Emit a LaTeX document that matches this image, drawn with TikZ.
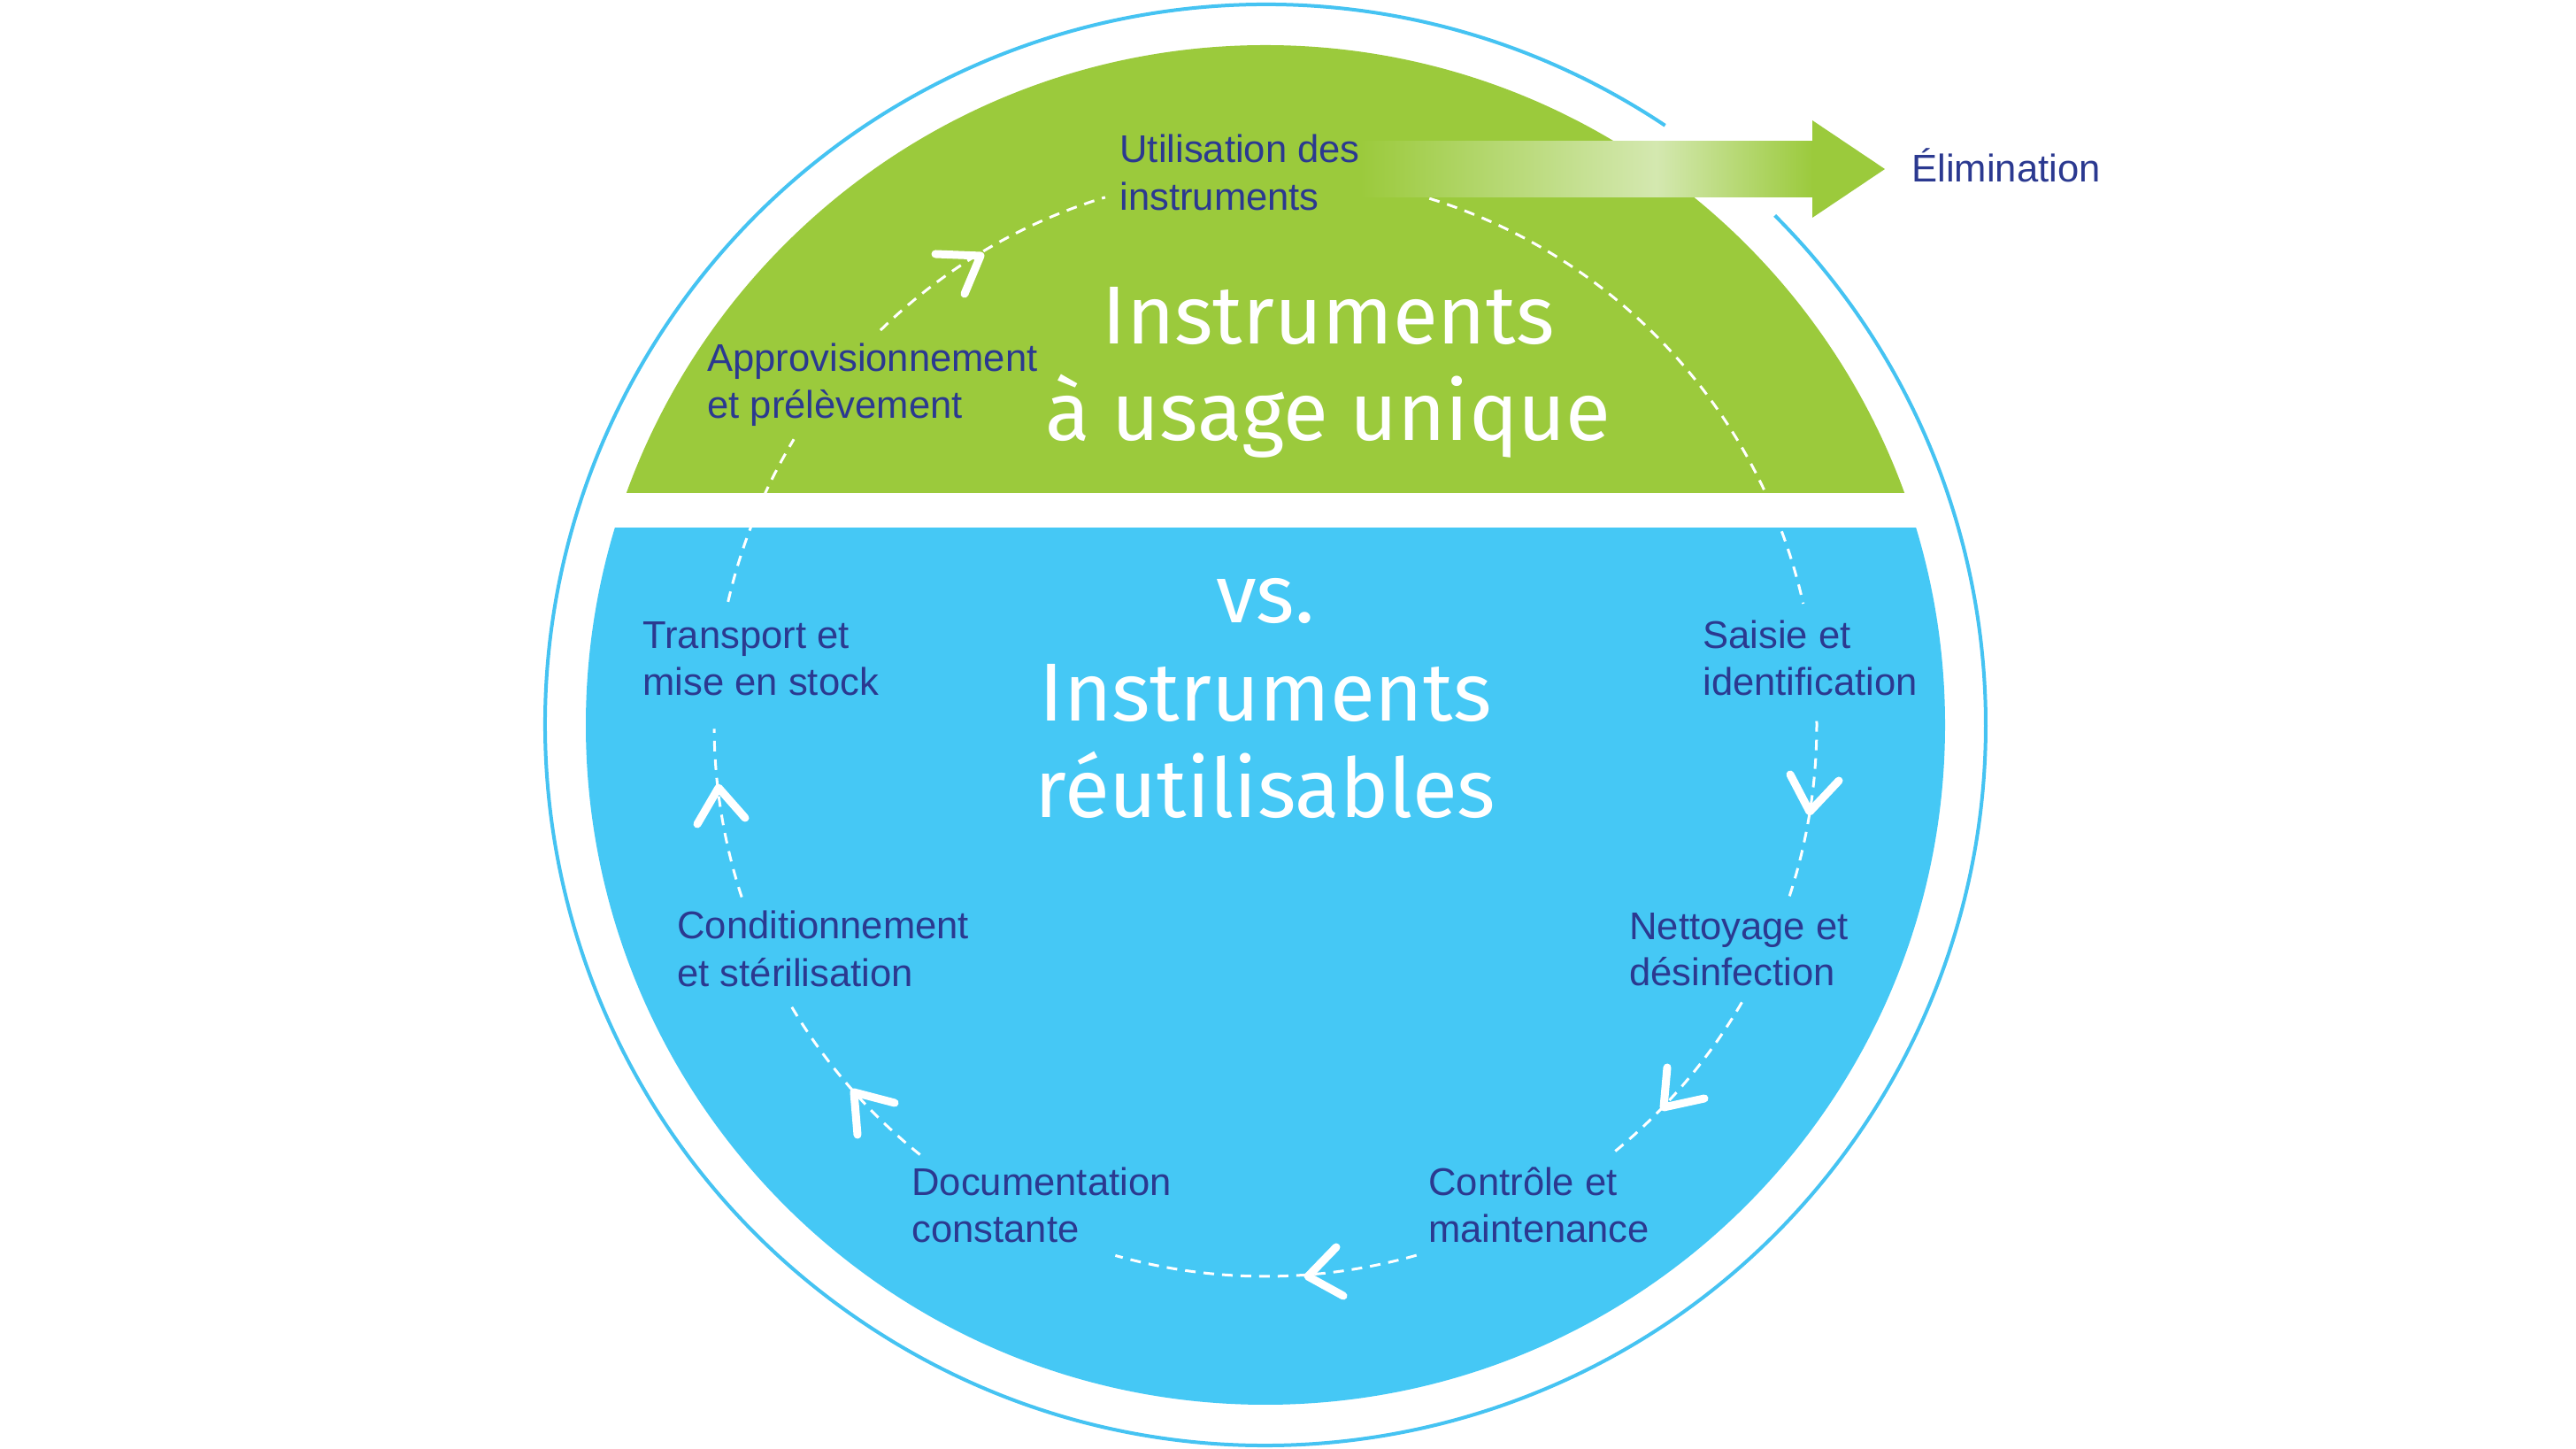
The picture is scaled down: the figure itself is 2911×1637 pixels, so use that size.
\documentclass[tikz,border=0pt]{standalone}
\usepackage{fontspec}
\setmainfont{Liberation Sans}
\newfontfamily\titlefont{Fira Sans}
\definecolor{grn}{HTML}{9BCA3C}
\definecolor{blu}{HTML}{45C8F5}
\definecolor{ring}{HTML}{45C3F2}
\definecolor{navy}{HTML}{2B3990}
\definecolor{pale}{HTML}{D4E8B0}
\begin{document}
\begin{tikzpicture}[x=0.5pt,y=0.5pt,
  lbl/.style={text=navy,font=\fontsize{21.8pt}{26pt}\selectfont,anchor=base west,inner sep=0pt},
  ttl/.style={text=white,font=\titlefont\fontsize{46.5pt}{54pt}\selectfont,anchor=base,inner sep=0pt},
  cyc/.style={white,line width=1.5pt,dash pattern=on 6pt off 4.5pt},
  chev/.style={white,line width=4.5pt,line cap=round,line join=round},
  ringline/.style={ring,line width=2pt}]
\useasboundingbox (0,0) rectangle (2911,1637);
\fill[white] (0,0) rectangle (2911,1637);
\coordinate (C) at (1430,818);
% discs
\begin{scope}
  \clip (0,1080) rectangle (2911,1637);
  \fill[grn] (C) circle[radius=768];
\end{scope}
\begin{scope}
  \clip (0,0) rectangle (2911,1040);
  \fill[blu] (C) circle[radius=768];
\end{scope}
% dashed cycle
\foreach \a/\b in {72.7/12.7, 0.4/-18.1, -30.2/-51.0, -74.1/-105.8, -128.8/-149.6, -161.8/-179.6, 167.1/148.8, 134.3/106.9}
  \draw[cyc] (C) ++(\a:623) arc[start angle=\a, end angle=\b, radius=623];
% chevrons
\draw[chev] (1057,1350) -- (1108,1348) -- (1090,1305);
\draw[chev] (2023,762) -- (2045,720) -- (2078,755);
\draw[chev] (1884,431) -- (1880,386) -- (1926,396);
\draw[chev] (1510,228) -- (1478,195) -- (1518,173);
\draw[chev] (1011,391) -- (965,403) -- (969,355);
\draw[chev] (788,706) -- (812,747) -- (842,713);
% titles
\node[ttl] (t1) at (1501,1248) {Instruments};
\node[ttl] (t2) at (1501,1139) {à usage unique};
\node[ttl] (t3) at (1430,933) {vs.};
\node[ttl] (t4) at (1430,822) {Instruments};
\node[ttl] (t5) at (1430,713) {réutilisables};
% arrow to Elimination
\fill[left color=grn,right color=pale] (1537,1414) rectangle (1872,1477);
\fill[left color=pale,right color=grn] (1872,1414) rectangle (2049,1477);
\fill[grn] (2048,1501) -- (2130,1446) -- (2048,1391) -- cycle;
% labels
\node[lbl] (u1) at (1265,1453) {Utilisation des};
\node[lbl] (u2) at (1265,1399) {instruments};
\node[lbl] (e1) at (2160,1431) {Élimination};
\node[lbl] (a1) at (799,1217) {Approvisionnement};
\node[lbl] (a2) at (799,1164) {et prélèvement};
\node[lbl] (tr1) at (726,904) {Transport et};
\node[lbl] (tr2) at (726,851) {mise en stock};
\node[lbl] (s1) at (1924,904) {Saisie et};
\node[lbl] (s2) at (1924,851) {identification};
\node[lbl] (n1) at (1841,575) {Nettoyage et};
\node[lbl] (n2) at (1841,523) {désinfection};
\node[lbl] (c1) at (765,576) {Conditionnement};
\node[lbl] (c2) at (765,522) {et stérilisation};
\node[lbl] (d1) at (1030,286) {Documentation};
\node[lbl] (d2) at (1030,233) {constante};
\node[lbl] (k1) at (1614,286) {Contrôle et};
\node[lbl] (k2) at (1614,233) {maintenance};
% outer ring with gap at the arrow
\draw[ringline] (C) ++(56.3:814) arc[start angle=56.3, end angle=405, radius=814];
\end{tikzpicture}
\end{document}
